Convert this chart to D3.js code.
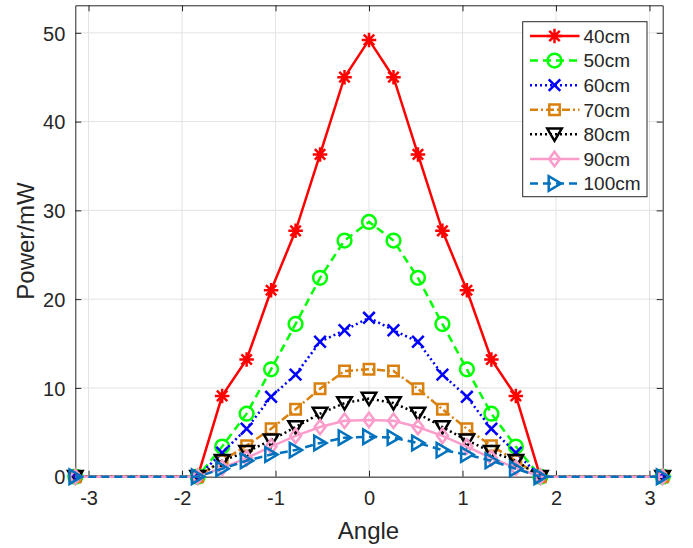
<!DOCTYPE html>
<html>
<head>
<meta charset="utf-8">
<script src="https://cdn.jsdelivr.net/npm/d3@7"></script>
<style>
  body { margin: 0; background: #fff; }
  text { font-family: "Liberation Sans", Arial, Helvetica, sans-serif; fill: #262626; }
</style>
</head>
<body>
<div id="viz"></div>
<script>
// angle samples (rad)
var angles = [-3.1416, -1.8326, -1.5708, -1.3090, -1.0472, -0.7854, -0.5236, -0.2618, 0,
  0.2618, 0.5236, 0.7854, 1.0472, 1.3090, 1.5708, 1.8326, 3.1416];

var p40 = [0, 0, 9.1, 13.2, 21.0, 27.7, 36.3, 45.0, 49.2, 45.0, 36.3, 27.7, 21.0, 13.2, 9.1, 0, 0];
var p50 = [0, 0, 3.4, 7.1, 12.1, 17.2, 22.4, 26.6, 28.7, 26.6, 22.4, 17.2, 12.1, 7.1, 3.4, 0, 0];
var p60 = [0, 0, 2.7, 5.4, 9.0, 11.5, 15.2, 16.5, 17.9, 16.5, 15.2, 11.5, 9.0, 5.4, 2.7, 0, 0];
var p70 = [0, 0, 1.8, 3.5, 5.4, 7.6, 9.9, 11.9, 12.1, 11.9, 9.9, 7.6, 5.4, 3.5, 1.8, 0, 0];
var p80 = [0, 0, 1.8, 2.8, 4.1, 5.6, 7.1, 8.3, 8.8, 8.3, 7.1, 5.6, 4.1, 2.8, 1.8, 0, 0];
var p90 = [0, 0, 1.0, 2.1, 3.4, 4.6, 5.6, 6.3, 6.4, 6.3, 5.6, 4.6, 3.4, 2.1, 1.0, 0, 0];
var p100 = [0, 0, 0.9, 1.8, 2.5, 3.0, 3.8, 4.4, 4.5, 4.4, 3.8, 3.0, 2.5, 1.8, 0.9, 0, 0];

var labels = ["40cm", "50cm", "60cm", "70cm", "80cm", "90cm", "100cm"];
var xTicks = [-3, -2, -1, 0, 1, 2, 3];
var yTicks = [0, 10, 20, 30, 40, 50];

var series = [
  { name: labels[0], values: p40, color: "#ff0000", dash: null, marker: "star" },
  { name: labels[1], values: p50, color: "#00ff00", dash: "8,5", marker: "circle" },
  { name: labels[2], values: p60, color: "#0000ff", dash: "2,3", marker: "x" },
  { name: labels[3], values: p70, color: "#d9800f", dash: "8,3,2,3", marker: "square" },
  { name: labels[4], values: p80, color: "#000000", dash: "2,3", marker: "tridown" },
  { name: labels[5], values: p90, color: "#fb9ccb", dash: null, marker: "diamond" },
  { name: labels[6], values: p100, color: "#0072bd", dash: "8,5", marker: "triright" }
];

var W = 693, H = 548;
var margin = { top: 5.3, right: 30.3, bottom: 71.3, left: 75.3 },
  width = W - margin.left - margin.right,
  height = H - margin.top - margin.bottom;

var svg = d3.select("#viz").append("svg")
  .attr("width", W)
  .attr("height", H);

svg.append("rect").attr("width", W).attr("height", H).attr("fill", "#fff");

var g = svg.append("g")
  .attr("transform", "translate(" + margin.left + "," + margin.top + ")");

var xScale = d3.scaleLinear().domain([-3.1416, 3.1416]).range([0, width]);
var yScale = d3.scaleLinear().domain([0, 53.1]).range([height, 0]);

// grid
g.append("g").selectAll("line").data(xTicks).enter().append("line")
  .attr("x1", d => xScale(d)).attr("x2", d => xScale(d))
  .attr("y1", 0).attr("y2", height)
  .attr("stroke", "#e3e3e3").attr("stroke-width", 1);
g.append("g").selectAll("line").data(yTicks).enter().append("line")
  .attr("y1", d => yScale(d)).attr("y2", d => yScale(d))
  .attr("x1", 0).attr("x2", width)
  .attr("stroke", "#e3e3e3").attr("stroke-width", 1);

// axes (ticks inward, box on)
var tickLen = 6;
var xAxis = d3.axisBottom(xScale).tickValues(xTicks).tickSizeInner(-tickLen).tickSizeOuter(0)
  .tickPadding(14).tickFormat(d => String(d));
var yAxis = d3.axisLeft(yScale).tickValues(yTicks).tickSizeInner(-tickLen).tickSizeOuter(0)
  .tickPadding(10).tickFormat(d => String(d));

var gx = g.append("g").attr("transform", "translate(0," + height + ")").call(xAxis);
var gy = g.append("g").call(yAxis);
var gxt = g.append("g").call(d3.axisTop(xScale).tickValues(xTicks).tickSizeInner(-tickLen).tickSizeOuter(0).tickFormat(""));
var gyr = g.append("g").attr("transform", "translate(" + width + ",0)")
  .call(d3.axisRight(yScale).tickValues(yTicks).tickSizeInner(-tickLen).tickSizeOuter(0).tickFormat(""));

[gx, gy, gxt, gyr].forEach(function (a) {
  a.select(".domain").attr("stroke", "#262626").attr("stroke-width", 1);
  a.selectAll(".tick line").attr("stroke", "#262626");
  a.selectAll("text").style("font-size", "20px").attr("fill", "#262626")
    .style("font-family", "'Liberation Sans', Arial, sans-serif");
});
gy.selectAll("text").attr("dy", "0.36em");
gx.selectAll("text").attr("dy", "0.71em");

// axis labels
svg.append("text")
  .attr("x", 368.5).attr("y", 539)
  .style("text-anchor", "middle").style("font-size", "24px")
  .text("Angle");
svg.append("text")
  .attr("transform", "translate(33.5,241) rotate(-90)")
  .style("text-anchor", "middle").style("font-size", "24px")
  .text("Power/mW");

// marker shapes
function markerPath(type, s) {
  var r = s / 2;
  switch (type) {
    case "star":
      var a = r * 0.72;
      return "M" + (-r) + ",0L" + r + ",0M0," + (-r) + "L0," + r +
        "M" + (-a) + "," + (-a) + "L" + a + "," + a + "M" + (-a) + "," + a + "L" + a + "," + (-a);
    case "circle":
      var c = r * 0.95;
      return "M" + c + ",0A" + c + "," + c + " 0 1,1 " + (-c) + ",0A" + c + "," + c + " 0 1,1 " + c + ",0Z";
    case "x":
      var b = r * 0.8;
      return "M" + (-b) + "," + (-b) + "L" + b + "," + b + "M" + (-b) + "," + b + "L" + b + "," + (-b);
    case "square":
      var q = r * 0.72;
      return "M" + (-q) + "," + (-q) + "H" + q + "V" + q + "H" + (-q) + "Z";
    case "tridown":
      return "M" + (-r) + "," + (-r * 0.8) + "H" + r + "L0," + (r * 0.9) + "Z";
    case "diamond":
      return "M0," + (-r) + "L" + (r * 0.75) + ",0L0," + r + "L" + (-r * 0.75) + ",0Z";
    case "triright":
      return "M" + (-r * 0.8) + "," + (-r) + "V" + r + "L" + (r * 0.9) + ",0Z";
  }
}

var line = d3.line()
  .x(function (d, i) { return xScale(angles[i]); })
  .y(function (d) { return yScale(d); });

var msize = 14.5, lwid = 2.5;

series.forEach(function (s) {
  var sg = g.append("g");
  sg.append("path")
    .datum(s.values)
    .attr("d", line)
    .attr("fill", "none")
    .attr("stroke", s.color)
    .attr("stroke-width", lwid)
    .attr("stroke-dasharray", s.dash);
  sg.selectAll("path.mk")
    .data(s.values)
    .enter().append("path")
    .attr("class", "mk")
    .attr("transform", function (d, i) { return "translate(" + xScale(angles[i]) + "," + yScale(d) + ")"; })
    .attr("d", markerPath(s.marker, msize))
    .attr("fill", "none")
    .attr("stroke", s.color)
    .attr("stroke-width", lwid);
});

// legend
var lx = 522.7, ly = 21.7, lw = 124.3, lh = 175;
var legend = svg.append("g");
legend.append("rect")
  .attr("x", lx).attr("y", ly).attr("width", lw).attr("height", lh)
  .attr("fill", "#fff").attr("stroke", "#262626").attr("stroke-width", 1);

var rowY = d3.scaleLinear().domain([0, 6]).range([36, 183.5]);

series.forEach(function (s, i) {
  var y = rowY(i);
  legend.append("line")
    .attr("x1", 530).attr("x2", 579.5).attr("y1", y).attr("y2", y)
    .attr("stroke", s.color).attr("stroke-width", lwid)
    .attr("stroke-dasharray", s.dash);
  legend.append("path")
    .attr("transform", "translate(554.5," + y + ")")
    .attr("d", markerPath(s.marker, msize))
    .attr("fill", "none").attr("stroke", s.color).attr("stroke-width", lwid);
  legend.append("text")
    .attr("x", 583.5).attr("y", y).attr("dy", "0.36em")
    .style("font-size", "19px").attr("fill", "#000")
    .text(s.name);
});
</script>
</body>
</html>
